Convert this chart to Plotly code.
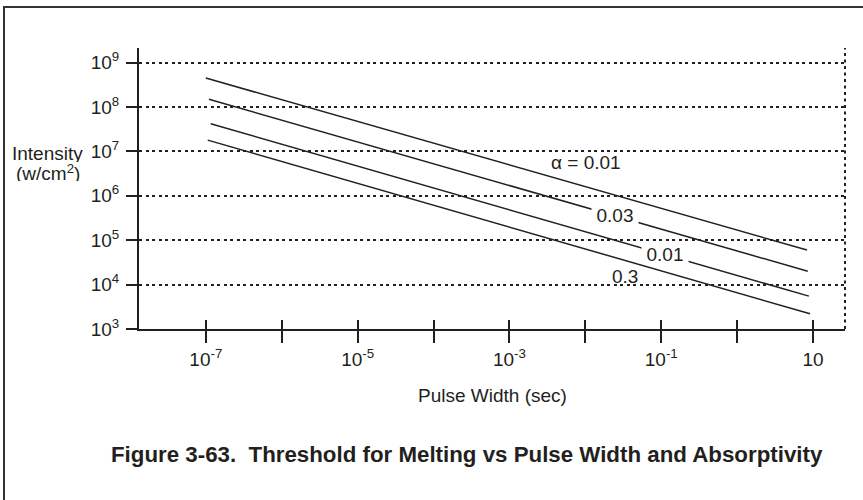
import numpy as np
import plotly.graph_objects as go

# ---------------- data ----------------
series_labels = ["α = 0.01", "0.03", "0.01", "0.3"]
pulse_start = [1.0e-7, 1.1e-7, 1.16e-7, 1.06e-7]          # sec
pulse_end = [8.3, 8.5, 8.8, 9.1]                          # sec
intensity_start = [4.5e8, 1.5e8, 4.2e7, 1.8e7]            # W/cm^2
intensity_end = [6.0e4, 2.0e4, 5.5e3, 2.2e3]              # W/cm^2

# label anchor points (data values) and whether the label interrupts its line
label_x = [0.0102, 0.0248, 0.113, 0.033]
label_y = [5.5e6, 3.6e5, 4.8e4, 1.55e4]
label_gap = [False, True, True, False]

x_tickvals = [1e-7, 1e-5, 1e-3, 1e-1, 1e1]
x_ticktext = ["10<sup>-7</sup>", "10<sup>-5</sup>", "10<sup>-3</sup>", "10<sup>-1</sup>", "10"]
x_minorvals = [1e-6, 1e-4, 1e-2, 1e0]
x_allvals = [1e-7, 1e-6, 1e-5, 1e-4, 1e-3, 1e-2, 1e-1, 1e0, 1e1]
y_tickvals = [1e3, 1e4, 1e5, 1e6, 1e7, 1e8, 1e9]
y_ticktext = ["10<sup>3</sup>", "10<sup>4</sup>", "10<sup>5</sup>", "10<sup>6</sup>",
              "10<sup>7</sup>", "10<sup>8</sup>", "10<sup>9</sup>"]

x_title = "Pulse Width (sec)"
y_title_1 = "Intensity"
y_title_2 = "(w/cm<sup>2</sup>)"
caption = "<b>Figure 3-63.&nbsp; Threshold for Melting vs Pulse Width and Absorptivity</b>"

# ---------------- style ----------------
INK = "#231f20"
FONT = "Liberation Sans, Arial, Helvetica, sans-serif"
FS = 19
X_RANGE = [-7.88, 1.42]   # log10
Y_RANGE = [3.0, 9.33]     # log10

fig = go.Figure()

for i, lab in enumerate(series_labels):
    fig.add_trace(go.Scatter(
        x=[pulse_start[i], pulse_end[i]],
        y=[intensity_start[i], intensity_end[i]],
        mode="lines",
        line=dict(color=INK, width=1.5),
        name=lab,
        showlegend=False,
        hoverinfo="skip",
    ))

# helper trace for the overlaid axis (inside half of the crossing ticks)
fig.add_trace(go.Scatter(x=[], y=[], xaxis="x2", yaxis="y", showlegend=False,
                         hoverinfo="skip"))

annotations = []
for i, lab in enumerate(series_labels):
    a = dict(
        x=np.log10(label_x[i]), y=np.log10(label_y[i]), xref="x", yref="y",
        text=lab, showarrow=False,
        font=dict(family=FONT, size=FS, color=INK),
        xanchor="center", yanchor="middle",
    )
    if label_gap[i]:
        a.update(bgcolor="white", width=46, height=17, borderpad=0)
    annotations.append(a)

annotations += [
    dict(x=0.5007, y=-0.235, xref="paper", yref="paper", text=x_title,
         showarrow=False, xanchor="center", yanchor="middle",
         font=dict(family=FONT, size=FS, color=INK)),
    dict(x=-0.1289, y=0.625, xref="paper", yref="paper", text=y_title_1,
         showarrow=False, xanchor="center", yanchor="middle", height=17,
         font=dict(family=FONT, size=FS, color=INK)),
    dict(x=-0.1289, y=0.557, xref="paper", yref="paper", text=y_title_2,
         showarrow=False, xanchor="center", yanchor="middle", height=17,
         font=dict(family=FONT, size=FS, color=INK)),
    dict(x=0.4646, y=-0.445, xref="paper", yref="paper", text=caption,
         showarrow=False, xanchor="center", yanchor="middle",
         font=dict(family=FONT, size=22.3, color=INK)),
]

shapes = [
    # dotted right edge of plotting frame
    dict(type="line", xref="paper", yref="paper", x0=1, x1=1, y0=0, y1=1,
         line=dict(color=INK, width=2, dash="3px,3.5px")),
    # outer figure frame (runs off the right and bottom edges)
    dict(type="rect", xref="paper", yref="paper", x0=-0.1912, x1=1.06,
         y0=-0.70, y1=1.1459, line=dict(color="#333333", width=2),
         layer="below"),
]

fig.update_layout(
    width=863, height=500,
    margin=dict(l=139, r=18, t=48, b=171),
    paper_bgcolor="white", plot_bgcolor="white",
    font=dict(family=FONT, size=FS, color=INK),
    showlegend=False,
    annotations=annotations,
    shapes=shapes,
    xaxis=dict(
        type="log", range=X_RANGE, tickmode="array",
        tickvals=x_tickvals, ticktext=x_ticktext,
        ticks="outside", ticklen=12, tickwidth=1.5, tickcolor=INK,
        minor=dict(tickmode="array", tickvals=x_minorvals, ticks="outside",
                   ticklen=12, tickwidth=1.5, tickcolor=INK, showgrid=False),
        showline=True, linecolor=INK, linewidth=2,
        showgrid=False, zeroline=False,
        tickfont=dict(family=FONT, size=FS, color=INK),
    ),
    xaxis2=dict(
        type="log", range=X_RANGE, overlaying="x", side="bottom",
        tickmode="array", tickvals=x_allvals,
        ticks="inside", ticklen=9, tickwidth=1.5, tickcolor=INK,
        showticklabels=False, showline=False, showgrid=False, zeroline=False,
    ),
    yaxis=dict(
        type="log", range=Y_RANGE, tickmode="array",
        tickvals=y_tickvals, ticktext=y_ticktext,
        ticks="outside", ticklen=11, tickwidth=1.5, tickcolor=INK,
        ticklabelstandoff=3,
        showline=True, linecolor=INK, linewidth=2,
        showgrid=True, gridcolor=INK, gridwidth=1.5, griddash="3px,3.5px",
        zeroline=False,
        tickfont=dict(family=FONT, size=FS, color=INK),
    ),
)

fig.write_html(
    "out.html",
    config={"displayModeBar": False},
    post_script="document.body.style.margin='0';document.body.style.overflow='hidden';",
)
